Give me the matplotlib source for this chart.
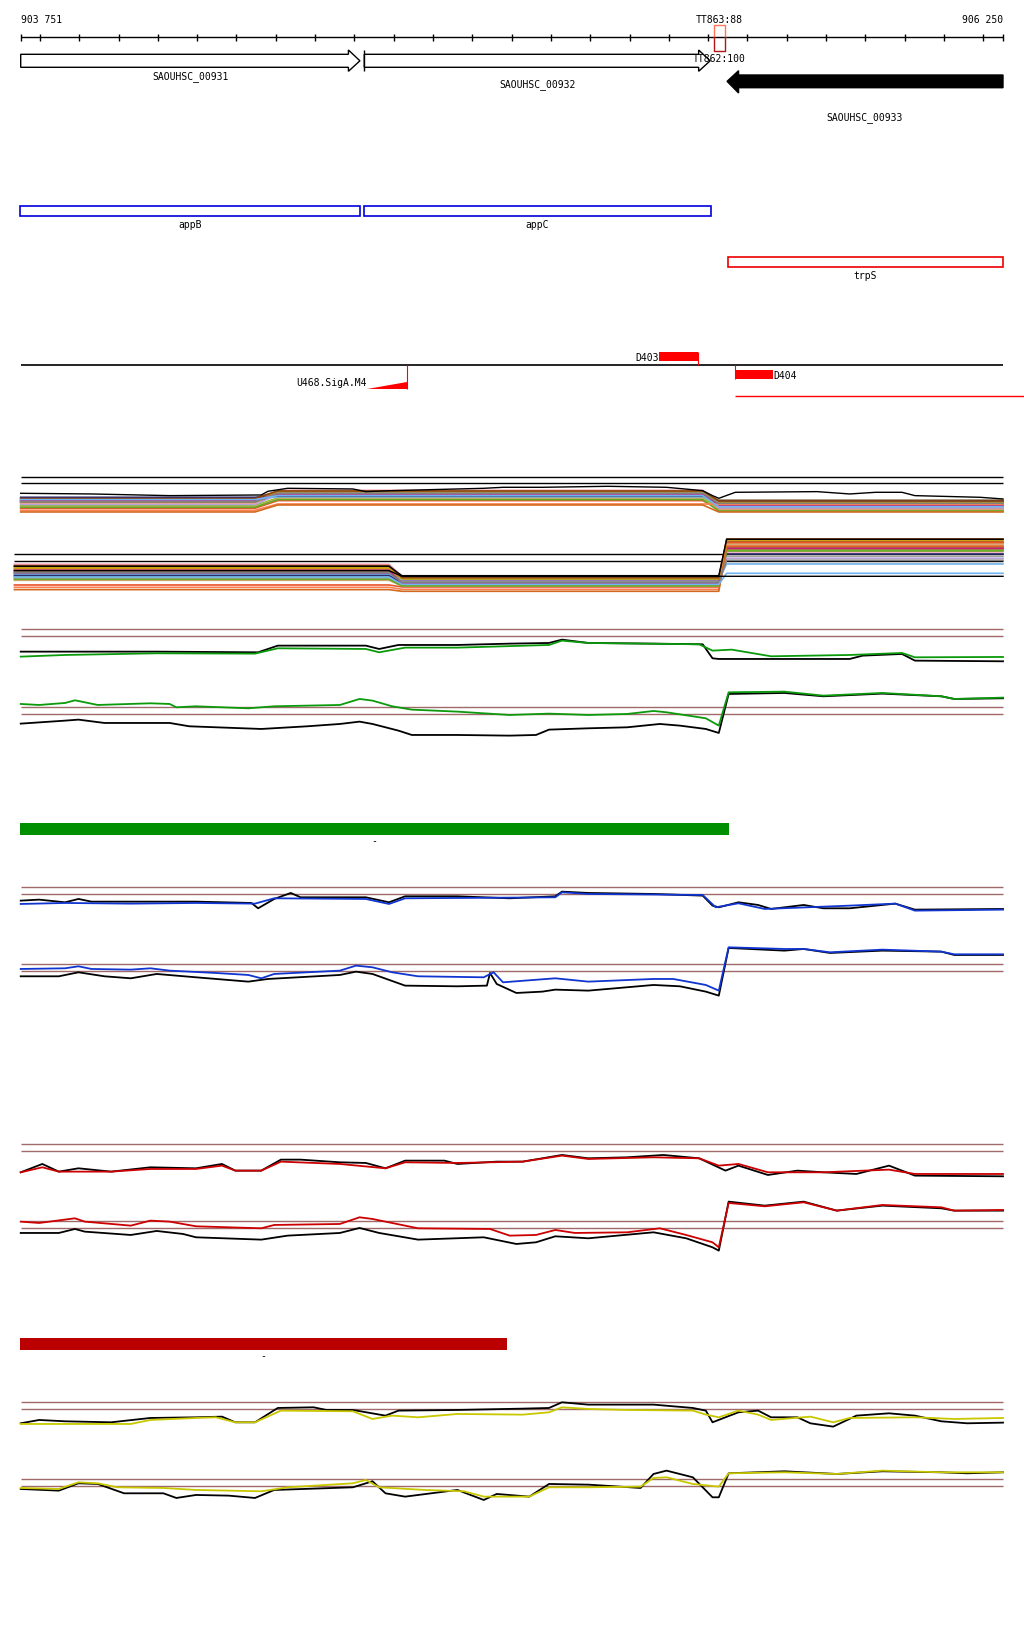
import numpy as np
import matplotlib
matplotlib.use('Agg')
import matplotlib.pyplot as plt
from matplotlib.patches import Polygon, Rectangle

# ---- region ----
START, END = 903751, 906250
W, H = 1024, 1640
PX0, PX1 = 20.7, 1003.0              # ruler ends in pixels
BP_PER_PX = (END - START) / (PX1 - PX0)
XMIN = START - PX0 * BP_PER_PX
XMAX = START + (W - PX0) * BP_PER_PX

ruler_ticks = [START] + list(range(903800, 906201, 100)) + [END]

# CDS arrows
cds_names = ['SAOUHSC_00931', 'SAOUHSC_00932', 'SAOUHSC_00933']
cds_start = [903751, 904625, 905548]
cds_end = [904614, 905505, 906250]
cds_strand = ['+', '+', '-']

# gene boxes
gene_names = ['appB', 'appC', 'trpS']
gene_start = [903750, 904624, 905551]
gene_end = [904613, 905507, 906250]

# terminators
term_names = ['TT863:88', 'TT862:100']
term_start = 905516
term_end = 905542

# binding sites / promoters
site_names = ['D403', 'D404', 'U468.SigA.M4']
site_start = [905375, 905568, 904632]
site_end = [905474, 905665, 904734]

# segments (bars)
green_bar = (903749, 905553)
red_bar = (903749, 904988)

# ---- signal tracks: x = bp from START, value = signal units ----
gt_x_k = [0, 346, 604, 654, 878, 912, 961, 1111, 1244, 1344, 1377, 1444, 1610, 1735, 1760, 1776, 2109, 2142, 2242, 2275, 2499]
gt_k = [-46, -46, -48, -28, -28, -38, -26, -26, -22, -20, -10, -20, -22, -24, -66, -68, -68, -58, -53, -73, -75]
gt_x_c = [0, 113, 346, 596, 654, 878, 912, 978, 1111, 1344, 1377, 1444, 1726, 1760, 1809, 1909, 2109, 2242, 2275, 2499]
gt_c = [-61, -56, -51, -52, -36, -38, -48, -34, -34, -26, -13, -20, -24, -43, -40, -60, -56, -50, -63, -62]

gb_x_c = [0, 47, 113, 138, 163, 196, 330, 379, 396, 446, 579, 645, 812, 862, 895, 945, 995, 1111, 1244, 1344, 1444, 1543, 1610, 1643, 1743, 1776, 1801, 1943, 2042, 2192, 2342, 2375, 2499]
gb_c = [31, 28, 34, 42, 36, 28, 33, 31, 21, 24, 18, 24, 28, 46, 41, 24, 14, 8, -2, 2, -2, 1, 10, 6, -12, -34, 66, 68, 56, 64, 54, 46, 50]
gb_x_k = [0, 113, 147, 213, 379, 429, 612, 729, 812, 862, 895, 961, 995, 1111, 1244, 1311, 1344, 1444, 1543, 1626, 1677, 1743, 1776, 1801, 1943, 2042, 2192, 2342, 2375, 2499]
gb_k = [-28, -19, -16, -26, -26, -36, -44, -36, -29, -22, -29, -49, -62, -62, -64, -62, -46, -42, -39, -29, -34, -44, -56, 61, 64, 54, 62, 54, 46, 48]

bt_x_k = [0, 47, 113, 147, 180, 280, 446, 587, 604, 645, 687, 712, 878, 937, 978, 1111, 1244, 1360, 1377, 1444, 1610, 1735, 1760, 1776, 1826, 1876, 1909, 1992, 2042, 2109, 2225, 2275, 2499]
bt_k = [-19, -16, -24, -14, -22, -22, -22, -26, -42, -14, 4, -9, -9, -24, -6, -6, -12, -6, 8, 4, 1, -4, -34, -39, -24, -32, -44, -32, -42, -42, -28, -46, -44]
bt_x_c = [0, 113, 280, 446, 596, 645, 878, 937, 978, 1244, 1360, 1377, 1444, 1735, 1768, 1826, 1893, 2109, 2225, 2275, 2499]
bt_c = [-29, -26, -28, -26, -28, -12, -14, -29, -12, -10, -9, 6, 1, -2, -39, -27, -44, -34, -28, -49, -46]

bb_x_c = [0, 113, 147, 180, 280, 330, 379, 496, 579, 612, 645, 812, 853, 895, 945, 1011, 1178, 1203, 1227, 1360, 1444, 1610, 1660, 1743, 1776, 1801, 1943, 1992, 2059, 2192, 2342, 2375, 2499]
bb_c = [7, 9, 15, 7, 5, 9, 2, -5, -11, -21, -8, 2, 17, 12, -3, -15, -18, -3, -33, -21, -31, -23, -23, -41, -58, 72, 67, 67, 57, 65, 59, 51, 51]
bb_x_k = [0, 97, 147, 213, 280, 346, 446, 579, 629, 812, 853, 895, 978, 1111, 1186, 1194, 1211, 1261, 1327, 1360, 1444, 1610, 1677, 1743, 1776, 1801, 1943, 1992, 2059, 2192, 2342, 2375, 2499]
bb_k = [-15, -15, -3, -15, -21, -8, -18, -31, -23, -11, -1, -8, -43, -45, -43, -5, -38, -65, -61, -55, -58, -41, -45, -61, -73, 70, 62, 67, 55, 62, 59, 49, 49]

rt_x_k = [0, 55, 97, 147, 230, 330, 446, 512, 546, 612, 662, 712, 812, 878, 928, 978, 1078, 1111, 1211, 1277, 1377, 1444, 1543, 1635, 1726, 1793, 1826, 1901, 1976, 2042, 2126, 2209, 2275, 2499]
rt_k = [-63, -38, -61, -51, -61, -48, -51, -38, -58, -58, -25, -25, -33, -35, -51, -28, -28, -38, -31, -31, -11, -21, -18, -11, -21, -58, -43, -71, -58, -63, -68, -43, -73, -75]
rt_x_c = [0, 55, 97, 230, 330, 446, 512, 546, 612, 662, 812, 928, 978, 1111, 1277, 1377, 1444, 1610, 1726, 1776, 1826, 1901, 2042, 2209, 2275, 2499]
rt_c = [-63, -48, -61, -61, -53, -53, -43, -58, -58, -31, -38, -51, -33, -35, -31, -13, -23, -18, -21, -43, -38, -63, -63, -55, -68, -68]

rb_x_c = [0, 47, 138, 163, 280, 330, 379, 446, 612, 645, 812, 862, 895, 1011, 1194, 1244, 1311, 1360, 1410, 1543, 1626, 1693, 1760, 1776, 1801, 1893, 1992, 2076, 2192, 2342, 2375, 2499]
rb_c = [20, 16, 30, 20, 8, 23, 20, 6, 0, 10, 13, 33, 28, 0, -2, -22, -20, -5, -14, -12, 0, -20, -42, -57, 76, 66, 78, 53, 70, 63, 53, 55]
rb_x_k = [0, 97, 138, 163, 280, 346, 413, 446, 612, 679, 812, 862, 912, 1011, 1178, 1261, 1311, 1360, 1444, 1610, 1693, 1760, 1776, 1801, 1893, 1992, 2076, 2192, 2342, 2375, 2499]
rb_k = [-14, -14, -2, -10, -20, -8, -17, -27, -34, -22, -14, 1, -14, -34, -27, -47, -42, -24, -30, -12, -30, -57, -67, 80, 68, 80, 53, 68, 60, 53, 53]

yt_x_k = [0, 47, 113, 230, 330, 446, 512, 546, 596, 654, 745, 778, 845, 928, 961, 1111, 1277, 1344, 1377, 1444, 1610, 1710, 1743, 1760, 1826, 1876, 1909, 1976, 2009, 2067, 2126, 2209, 2275, 2342, 2408, 2499]
yt_k = [-42, -32, -36, -39, -26, -24, -22, -39, -39, 4, 6, -2, -2, -19, -4, -2, 2, 4, 21, 14, 14, 4, -4, -39, -9, -4, -24, -24, -42, -52, -19, -12, -19, -36, -42, -40]
yt_x_c = [0, 280, 330, 446, 496, 546, 596, 662, 845, 895, 945, 1011, 1111, 1277, 1344, 1377, 1444, 1543, 1710, 1743, 1776, 1826, 1876, 1909, 2009, 2067, 2109, 2275, 2375, 2499]
yt_c = [-44, -44, -32, -26, -24, -39, -39, -4, -6, -29, -19, -24, -14, -16, -9, 6, 1, -2, -4, -16, -24, -4, -16, -32, -22, -39, -26, -24, -29, -26]

yb_x_c = [0, 97, 147, 196, 246, 363, 446, 612, 679, 845, 878, 912, 1028, 1128, 1178, 1294, 1344, 1444, 1577, 1610, 1643, 1710, 1776, 1801, 1943, 2076, 2192, 2342, 2499]
yb_c = [-5, -8, 12, 9, -3, -5, -11, -15, -3, 9, 19, -3, -11, -15, -31, -31, -3, -3, -1, 25, 27, 7, -1, 39, 42, 37, 47, 42, 42]
yb_x_k = [0, 97, 147, 196, 263, 363, 396, 446, 529, 596, 645, 845, 895, 928, 978, 1111, 1178, 1211, 1294, 1344, 1444, 1577, 1610, 1643, 1710, 1760, 1776, 1801, 1943, 2076, 2192, 2342, 2408, 2499]
yb_k = [-8, -13, 9, 7, -21, -21, -35, -26, -28, -35, -11, -3, 15, -21, -31, -11, -41, -23, -31, 7, 5, -5, 37, 47, 27, -33, -33, 39, 45, 37, 45, 42, 39, 42]

# ---- multi-sample bundle: levels (left, middle, right) ----
bundle_colors = ['#e07b28', '#b5651d', '#9b7d2e', '#a03c96', '#5fd400', '#70b0e8', '#f4a0b8',
                 '#e8552d', '#2b2d6e', '#a0a0a0', '#b8a0d8', '#c8a000', '#c81e78', '#d8a878',
                 '#8b4513', '#66aa22', '#ff7f50', '#d2691e', '#808080', '#6fb3f0']
b1_x = [0, 596, 654, 1735, 1776, 2499]
b1_levels = [(-50, -27, -60), (-44, -24, -55), (-54, -31, -51), (-58, -35, -66), (-67, -44, -72),
             (-47, -41, -58), (-61, -21, -69), (-75, -52, -77), (-42, -38, -52), (-53, -28, -63),
             (-64, -34, -74), (-57, -25, -58), (-51, -32, -66), (-70, -46, -80), (-46, -23, -53),
             (-72, -49, -83), (-81, -62, -63), (-86, -65, -86), (-56, -30, -60), (-49, -37, -70)]
b1_top_x = [0, 180, 379, 612, 629, 679, 845, 878, 945, 1178, 1227, 1327, 1494, 1643, 1735, 1760, 1776, 1818, 2026, 2109, 2175, 2242, 2275, 2441, 2499]
b1_top = [-30, -32, -37, -35, -24, -15, -17, -25, -22, -15, -12, -12, -9, -12, -22, -37, -45, -27, -25, -32, -27, -27, -37, -42, -47]
b2_x = [-16, 937, 970, 1776, 1796, 2499]
b2_levels = [(-23, -55, 54), (-16, -50, 60), (-31, -61, 47), (-37, -58, 41), (-47, -68, 34),
             (-40, -55, -8), (-9, -45, 28), (-71, -77, 56), (-43, -65, 22), (-33, -61, 15),
             (-51, -71, 9), (-20, -53, 64), (-27, -66, 38), (-57, -74, 51), (-13, -49, 67),
             (-54, -74, 31), (-78, -84, 46), (-85, -90, 44), (-34, -63, 3), (-47, -69, -36)]
b2_black = [(-28, -45, -45), (-15, -43, 66)]

fig = plt.figure(figsize=(W / 100, H / 100), dpi=100)
font = dict(family='DejaVu Sans Mono', fontsize=7, color='black')

ax = fig.add_axes([0, 0, 1, 1])
ax.set_xlim(XMIN, XMAX)
ax.set_ylim(H, 0)
ax.axis('off')

# ruler
ax.hlines(38.3, START, END, color='black', lw=1)
ax.vlines(ruler_ticks, 35, 41.5, color='black', lw=1)
ax.text(START, 20, f'{START:,}'.replace(',', ' '), ha='left', va='center', **font)
ax.text(END, 20, f'{END:,}'.replace(',', ' '), ha='right', va='center', **font)
tmid = (term_start + term_end) / 2
ax.plot([term_start, term_start, term_end, term_end], [38.3, 26, 26, 38.3], color='#ff7755', lw=1)
ax.plot([term_start, term_start, term_end, term_end], [38.3, 52, 52, 38.3], color='#b01818', lw=1)
ax.text(tmid, 20, term_names[0], ha='center', va='center', **font)

# CDS arrows
head = 11.5 * BP_PER_PX
for name, s, e, st in zip(cds_names, cds_start, cds_end, cds_strand):
    if st == '+':
        y0, y1, h0, h1 = 55.3, 68.3, 51, 72.3
        ym = (y0 + y1) / 2
        pts = [(s, y0), (e - head, y0), (e - head, h0), (e, ym), (e - head, h1), (e - head, y1), (s, y1)]
        ax.add_patch(Polygon(pts, closed=True, facecolor='white', edgecolor='black', lw=1))
    else:
        y0, y1, h0, h1 = 76, 88.7, 71.7, 94
        ym = (y0 + y1) / 2
        pts = [(e, y0), (s + head, y0), (s + head, h0), (s, ym), (s + head, h1), (s + head, y1), (e, y1)]
        ax.add_patch(Polygon(pts, closed=True, facecolor='black', edgecolor='black', lw=1))
ax.vlines(cds_start[1], 51, 72.3, color='black', lw=1)
cds_label_y = [76.7, 85, 117.7]
for name, s, e, ly in zip(cds_names, cds_start, cds_end, cds_label_y):
    ax.text((s + e) / 2, ly, name, ha='center', va='center', **font)
ax.text(tmid, 59.3, term_names[1], ha='center', va='center', **font)

# gene boxes
box_rows = [(207, 217, '#0000dd'), (207, 217, '#0000dd'), (258.3, 268.3, '#ee0000')]
for name, s, e, (y0, y1, c) in zip(gene_names, gene_start, gene_end, box_rows):
    ax.add_patch(Rectangle((s, y0), e - s, y1 - y0, fill=False, edgecolor=c, lw=1.2))
    ax.text((s + e) / 2, y1 + 8, name, ha='center', va='center', **font)

# binding sites
ax.hlines(366, START, END, color='black', lw=1.2)
red = '#ff0000'
s, e = site_start[0], site_end[0]
ax.add_patch(Rectangle((s, 353.3), e - s, 8.4, facecolor=red, edgecolor='none'))
ax.vlines(e, 353.3, 366, color=red, lw=0.8)
ax.text(s - 1, 357.7, site_names[0], ha='right', va='center', **font)
s, e = site_start[1], site_end[1]
ax.add_patch(Rectangle((s, 371), e - s, 9, facecolor=red, edgecolor='none'))
ax.vlines(s, 366, 380, color=red, lw=0.8)
ax.hlines(397.3, s, XMAX, color=red, lw=1)
ax.text(e, 376, site_names[1], ha='left', va='center', **font)
s, e = site_start[2], site_end[2]
ax.add_patch(Polygon([(s, 389.7), (e, 389.7), (e, 382.7)], closed=True, facecolor=red, edgecolor='none'))
ax.vlines(e, 366, 389.7, color=red, lw=0.8)
ax.text(s - 1, 383.3, site_names[2], ha='right', va='center', **font)

# bars
for (s, e), y0, c in [(green_bar, 824, '#008f00'), (red_bar, 1339, '#bb0000')]:
    ax.add_patch(Rectangle((s, y0), e - s, 12, facecolor=c, edgecolor='none'))
    ax.text((s + e) / 2, y0 + 17, '-', ha='center', va='center', **font)


def panel(zero_px, lo=-100, hi=100):
    bottom = H - (zero_px - lo / 3.0)
    a = fig.add_axes([0, bottom / H, 1, (hi - lo) / 3.0 / H])
    a.set_xlim(XMIN, XMAX)
    a.set_ylim(lo, hi)
    a.axis('off')
    a.patch.set_alpha(0)
    return a


brown = '#a06a6a'


def draw_pair(zero_px, xk, yk, xc, yc, color):
    a = panel(zero_px)
    a.hlines([0, 21], START, END, color=brown, lw=1)
    a.plot(START + np.array(xk), yk, color='black', lw=1.3, clip_on=False)
    a.plot(START + np.array(xc), yc, color=color, lw=1.3, clip_on=False)


# bundle tracks
a1 = panel(484.3)
a1.hlines([0, 18], START, END, color='black', lw=1)
for c, lv in zip(bundle_colors, b1_levels):
    a1.plot(START + np.array(b1_x), [lv[0], lv[0], lv[1], lv[1], lv[2], lv[2]], color=c, lw=1.2, clip_on=False)
a1.plot(START + np.array(b1_top_x), b1_top, color='black', lw=1.0, clip_on=False)

a2 = panel(562.3)
a2.hlines([0, 21], START + b2_x[0], END, color='black', lw=1)
for c, lv in zip(bundle_colors, b2_levels):
    a2.plot(START + np.array(b2_x), [lv[0], lv[0], lv[1], lv[1], lv[2], lv[2]], color=c, lw=1.2, clip_on=False)
for lv in b2_black:
    a2.plot(START + np.array(b2_x), [lv[0], lv[0], lv[1], lv[1], lv[2], lv[2]], color='black', lw=1.0, clip_on=False)

draw_pair(637.3, gt_x_k, gt_k, gt_x_c, gt_c, '#0b9a0b')
draw_pair(715.3, gb_x_k, gb_k, gb_x_c, gb_c, '#0b9a0b')
draw_pair(895.3, bt_x_k, bt_k, bt_x_c, bt_c, '#1035d0')
draw_pair(972.3, bb_x_k, bb_k, bb_x_c, bb_c, '#1035d0')
draw_pair(1152.3, rt_x_k, rt_k, rt_x_c, rt_c, '#cc0000')
draw_pair(1229.3, rb_x_k, rb_k, rb_x_c, rb_c, '#cc0000')
draw_pair(1410.3, yt_x_k, yt_k, yt_x_c, yt_c, '#c8c800')
draw_pair(1487.3, yb_x_k, yb_k, yb_x_c, yb_c, '#c8c800')

fig.savefig('out.png', dpi=100, facecolor='white')
